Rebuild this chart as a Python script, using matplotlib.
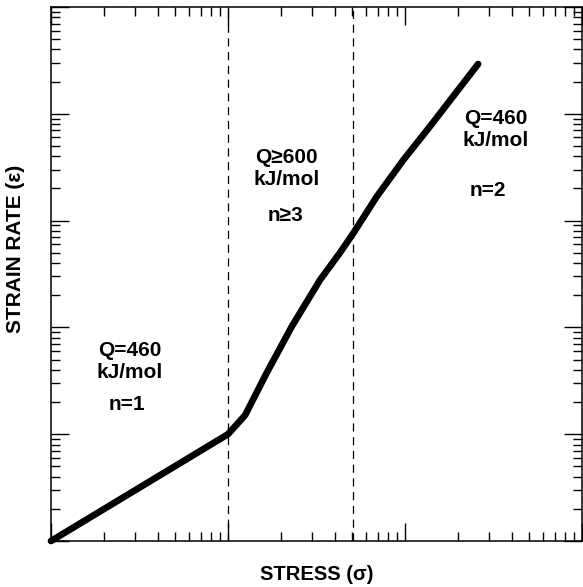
import matplotlib.pyplot as plt
from matplotlib.ticker import LogLocator, NullFormatter

#%% Data (log-log, arbitrary units)
stress = [1, 10, 12.5, 16.5, 22.9, 33.1, 42.9, 51.0, 69.2, 97.8, 138, 196, 259]
strain_rate = [1, 10, 15.1, 37.2, 101.6, 278, 500, 760, 1675, 3690, 7570, 16100, 29250]

boundaries = [10, 51]

regions_q = ["Q=460\nkJ/mol", "Q\u2265600\nkJ/mol", "Q=460\nkJ/mol"]
regions_n = ["n=1", "n\u22653", "n=2"]

# label positions in axes fractions
q_pos = [(0.149, 0.337), (0.443, 0.697), (0.838, 0.770)]
n_pos = [(0.143, 0.255), (0.441, 0.610), (0.823, 0.657)]

plt.rcParams['font.family'] = ['Liberation Sans', 'DejaVu Sans']

#%% Figure
fig = plt.figure(figsize=(5.83, 5.87), dpi=100)
ax = fig.add_axes([51 / 583, 46 / 587, 531 / 583, 534 / 587])

ax.plot(stress, strain_rate, color='black', lw=4.8,
        solid_capstyle='round', solid_joinstyle='round', clip_on=False, zorder=3)

for b in boundaries:
    ax.axvline(b, color='black', lw=0.9, dashes=(6.5, 4.5))

ax.set_xscale('log')
ax.set_yscale('log')
ax.set_xlim(1, 1000)
ax.set_ylim(1, 1e5)

for a in (ax.xaxis, ax.yaxis):
    a.set_major_locator(LogLocator(base=10, numticks=10))
    a.set_minor_locator(LogLocator(base=10, subs=range(2, 10), numticks=10))
    a.set_major_formatter(NullFormatter())
    a.set_minor_formatter(NullFormatter())

ax.tick_params(which='both', direction='in', top=True, right=True, width=1.0)
ax.tick_params(which='major', length=13)
ax.tick_params(which='minor', length=6.5)
for s in ax.spines.values():
    s.set_linewidth(1.1)

# region annotations
for q, n, (qx, qy), (nx, ny) in zip(regions_q, regions_n, q_pos, n_pos):
    ax.text(qx, qy, q, transform=ax.transAxes, ha='center', va='center',
            fontsize=15, fontweight='bold', linespacing=1.2)
    ax.text(nx, ny, n, transform=ax.transAxes, ha='center', va='center',
            fontsize=15, fontweight='bold')

fig.text(317 / 583, 1 - 575 / 587, "STRESS (\u03c3)", ha='center', va='center',
         fontsize=14.5, fontweight='bold')
fig.text(16 / 583, 1 - 249 / 587, "STRAIN RATE (\u03b5)", ha='center', va='center',
         rotation=90, fontsize=15, fontweight='bold')

fig.savefig("out.png", dpi=100)
